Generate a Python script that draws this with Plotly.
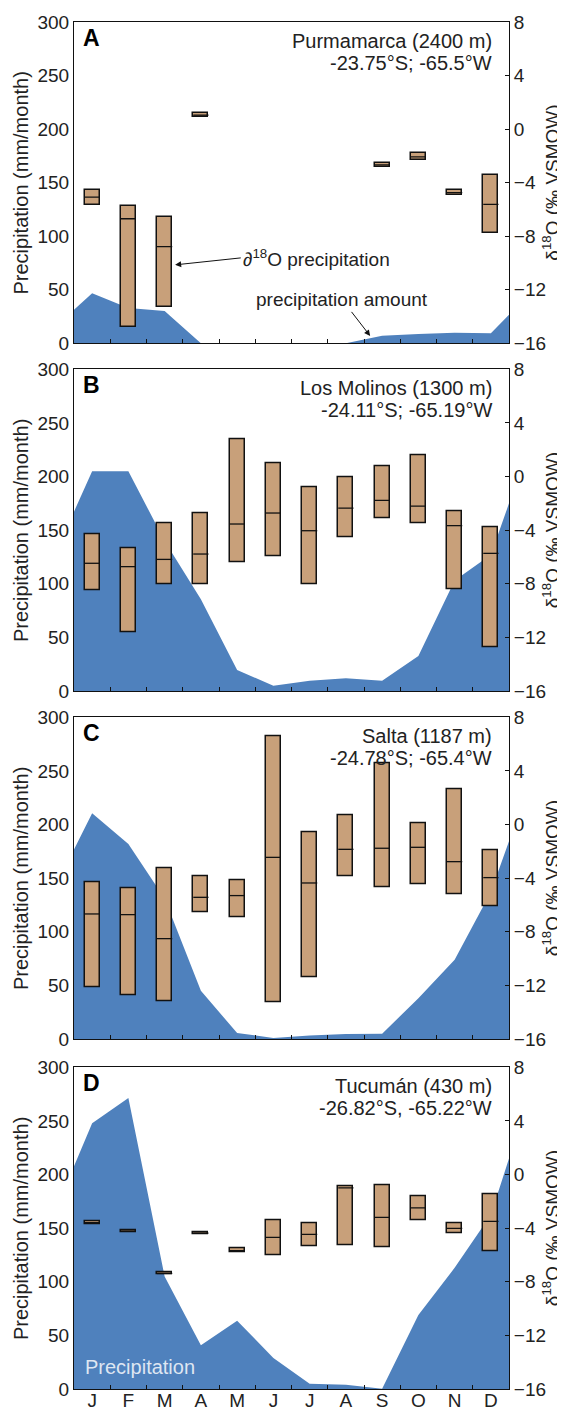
import plotly.graph_objects as go

months = ["J", "F", "M", "A", "M", "J", "J", "A", "S", "O", "N", "D"]
month_idx = list(range(1, 13))

stations = ["Purmamarca (2400 m)", "Los Molinos (1300 m)", "Salta (1187 m)", "Tucumán (430 m)"]
coords = ["-23.75°S; -65.5°W", "-24.11°S; -65.19°W", "-24.78°S; -65.4°W", "-26.82°S, -65.22°W"]
panel_letters = ["A", "B", "C", "D"]

# Monthly precipitation (mm/month) and the values where the area meets the left/right frame
precip_A = [46.7, 33, 30.2, 0, 0, 0, 0, 0, 7, 8.7, 9.7, 9.3]
precip_B = [204.9, 204.9, 140, 85.5, 19.6, 5, 9.6, 11.8, 9.6, 32.6, 103, 127]
precip_C = [210.5, 181.9, 131, 45, 5.6, 1, 3.4, 4.7, 5, 38, 74, 137]
precip_D = [247.8, 271.4, 105, 40.7, 63.7, 29, 5, 4, 0.3, 69, 113, 162.6]
edges_A = [31.2, 26.5]
edges_B = [167.3, 175]
edges_C = [176.6, 184.4]
edges_D = [207.7, 215]

# d18O (permil VSMOW): box low, median, high
low_A = [-5.66, -14.75, -13.31, 0.90, None, None, None, None, -2.82, -2.34, -4.93, -7.78]
med_A = [-5.09, -6.70, -8.78, 1.05, None, None, None, None, -2.67, -2.07, -4.74, -5.63]
high_A = [-4.53, -5.78, -6.58, 1.19, None, None, None, None, -2.54, -1.79, -4.56, -3.46]

low_B = [-8.46, -11.62, -8.02, -8.02, -6.42, -5.93, -8.02, -4.51, -3.09, -3.51, -8.41, -12.77]
med_B = [-6.47, -6.72, -6.18, -5.78, -3.54, -2.72, -4.04, -2.35, -1.77, -2.20, -3.66, -5.73]
high_B = [-4.34, -5.38, -3.51, -2.77, 2.75, 0.99, -0.80, -0.06, 0.74, 1.56, -2.57, -3.76]

low_C = [-12.12, -12.70, -13.17, -6.53, -6.92, -13.24, -11.37, -3.86, -4.68, -4.46, -5.18, -6.10]
med_C = [-6.67, -6.72, -8.51, -5.43, -5.30, -2.45, -4.36, -1.85, -1.77, -1.70, -2.77, -3.96]
high_C = [-4.34, -4.78, -3.29, -3.89, -4.18, 6.56, -0.60, 0.69, 4.54, 0.12, 2.65, -1.90]

low_D = [-3.69, -4.31, -7.47, -4.46, -5.83, -6.03, -5.35, -5.30, -5.40, -3.39, -4.41, -5.73]
med_D = [-3.59, -4.22, -7.38, -4.37, -5.68, -4.68, -4.46, -1.00, -3.19, -2.49, -4.01, -3.49]
high_D = [-3.49, -4.14, -7.30, -4.29, -5.53, -3.41, -3.61, -0.88, -0.78, -1.62, -3.64, -1.45]

precips = [precip_A, precip_B, precip_C, precip_D]
edges = [edges_A, edges_B, edges_C, edges_D]
lows = [low_A, low_B, low_C, low_D]
meds = [med_A, med_B, med_C, med_D]
highs = [high_A, high_B, high_C, high_D]

BLUE = "#4f81bd"
TAN = "#c8a07a"
FONT = "Liberation Sans"
TXT = "#222222"
BOX_W = 0.42

domains = [[0.765, 1.0], [0.5106, 0.7459], [0.256, 0.4914], [0.0, 0.2353]]

fig = go.Figure()
layout = {}
annotations = []

for i in range(4):
    xa = "x" if i == 0 else f"x{i+1}"
    yl = f"y{2*i+1}" if i > 0 else "y"
    yr = f"y{2*i+2}"
    xkey = "xaxis" if i == 0 else f"xaxis{i+1}"
    ylkey = "yaxis" if i == 0 else f"yaxis{2*i+1}"
    yrkey = f"yaxis{2*i+2}"

    # precipitation area
    fig.add_trace(go.Scatter(
        x=[0.5] + month_idx + [12.5],
        y=[edges[i][0]] + precips[i] + [edges[i][1]],
        fill="tozeroy", mode="none", fillcolor=BLUE,
        xaxis=xa, yaxis=yl, showlegend=False, hoverinfo="skip"))

    # d18O boxes
    lo, md, hi = lows[i], meds[i], highs[i]
    heights = [None if (a is None or b is None) else b - a for a, b in zip(lo, hi)]
    fig.add_trace(go.Bar(
        x=month_idx, y=heights, base=lo, width=BOX_W,
        marker=dict(color=TAN, line=dict(color="#111111", width=1.5)),
        xaxis=xa, yaxis=yr, showlegend=False))
    mx, my = [], []
    for m, v in zip(month_idx, md):
        if v is None:
            continue
        mx += [m - BOX_W / 2, m + BOX_W / 2, None]
        my += [v, v, None]
    fig.add_trace(go.Scatter(x=mx, y=my, mode="lines",
                             line=dict(color="#111111", width=1.3),
                             xaxis=xa, yaxis=yr, showlegend=False))

    layout[xkey] = dict(
        domain=[0, 1], range=[0.5, 12.5], anchor=yl, automargin=False,
        tickmode="array", tickvals=month_idx, ticktext=months,
        showticklabels=(i == 3), ticks="", ticklabelstandoff=-6,
        minor=dict(tickmode="array", tickvals=[k + 0.5 for k in range(1, 12)],
                   ticks="inside", ticklen=4, tickcolor="#111111", tickwidth=1),
        showline=True, mirror=True, linecolor="#111111", linewidth=1,
        showgrid=False, zeroline=False,
        tickfont=dict(family=FONT, size=19, color=TXT))
    layout[ylkey] = dict(
        domain=domains[i], range=[0, 300], anchor=xa, automargin=False,
        tickmode="array", tickvals=[0, 50, 100, 150, 200, 250, 300],
        ticks="", showline=True, mirror=True, linecolor="#111111", linewidth=1,
        showgrid=False, zeroline=False,
        tickfont=dict(family=FONT, size=19, color=TXT))
    layout[yrkey] = dict(
        overlaying=yl, side="right", range=[-16, 8], anchor=xa, automargin=False,
        tickmode="array", tickvals=[-16, -12, -8, -4, 0, 4, 8],
        ticks="inside", ticklen=4, tickcolor="#111111",
        showline=True, linecolor="#111111", linewidth=1,
        showgrid=False, zeroline=False,
        tickfont=dict(family=FONT, size=19, color=TXT))

    ymid = (domains[i][0] + domains[i][1]) / 2
    annotations.append(dict(
        xref="paper", yref="paper", x=-0.122, y=ymid,
        text="Precipitation (mm/month)", textangle=-90, showarrow=False,
        xanchor="center", yanchor="middle",
        font=dict(family=FONT, size=20, color=TXT)))
    annotations.append(dict(
        xref="paper", yref="paper", x=1.0966, y=ymid,
        text="δ<sup>18</sup>O (‰ VSMOW)", textangle=-90, showarrow=False,
        xanchor="center", yanchor="middle",
        font=dict(family=FONT, size=19, color=TXT)))
    annotations.append(dict(
        xref=f"{xa} domain", yref=f"{yl} domain", x=0.0402, y=0.950,
        text=f"<b>{panel_letters[i]}</b>", showarrow=False,
        xanchor="center", yanchor="middle",
        font=dict(family=FONT, size=23, color="#000000")))
    annotations.append(dict(
        xref=f"{xa} domain", yref=f"{yl} domain", x=0.9655, y=0.9420,
        text=stations[i], showarrow=False, xanchor="right", yanchor="middle",
        font=dict(family=FONT, size=20, color=TXT)))
    annotations.append(dict(
        xref=f"{xa} domain", yref=f"{yl} domain", x=0.9655, y=0.8736,
        text=coords[i], showarrow=False, xanchor="right", yanchor="middle",
        font=dict(family=FONT, size=20, color=TXT)))

# Panel A labels with arrows
annotations.append(dict(xref="x", yref="y", x=3.29, y=73.2, ax=5.1, ay=79.7,
                        axref="x", ayref="y", text="∂<sup>18</sup>O precipitation",
                        xanchor="left", yanchor="middle", showarrow=True,
                        arrowhead=2, arrowsize=1.2, arrowwidth=1, arrowcolor="#111111",
                        font=dict(family=FONT, size=19, color=TXT)))
annotations.append(dict(xref="x", yref="y", x=8.67, y=6.8, ax=7.9, ay=40.5,
                        axref="x", ayref="y", text="precipitation amount",
                        xanchor="center", yanchor="middle", showarrow=True,
                        arrowhead=2, arrowsize=1.2, arrowwidth=1, arrowcolor="#111111",
                        font=dict(family=FONT, size=19, color=TXT)))
# Panel D white label
annotations.append(dict(xref="x4 domain", yref="y7 domain", x=0.0207, y=0.0684,
                        text="Precipitation", showarrow=False, xanchor="left", yanchor="middle",
                        font=dict(family=FONT, size=20, color="rgba(255,255,255,0.82)")))

# The page body adds an 8 px offset; the figure is sized so the plot frame
# lands at x 74-509 and y 22-1389 of the 565x1410 window.
fig.update_layout(
    width=557, height=1402,
    margin=dict(l=66, r=56, t=14, b=21, autoexpand=False),
    paper_bgcolor="white", plot_bgcolor="white",
    annotations=annotations,
    showlegend=False,
    bargap=0,
    **layout)

fig.write_html("out.html")
